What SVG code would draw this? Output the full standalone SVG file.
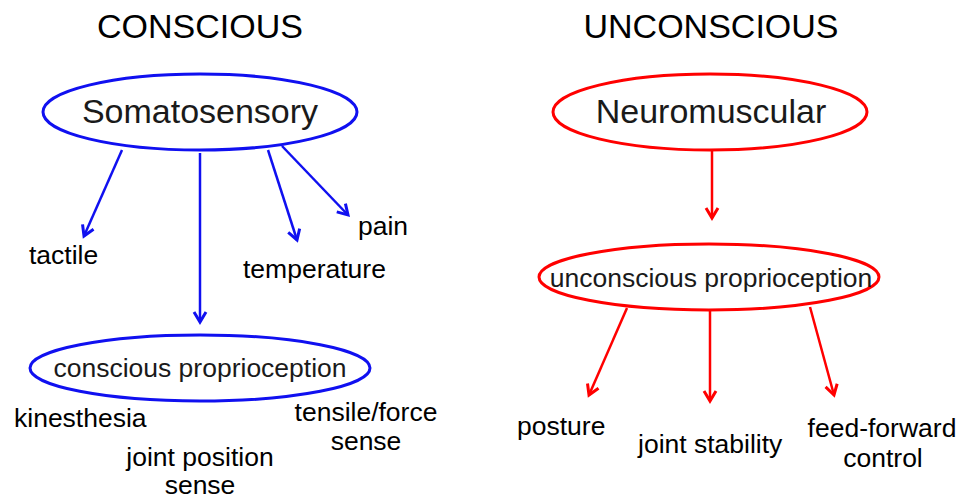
<svg xmlns="http://www.w3.org/2000/svg" width="964" height="500" viewBox="0 0 964 500">
<style>
text{font-family:"Liberation Sans",Arial,sans-serif;fill:#000}
.title{font-size:34px}
.big{font-size:34px;text-anchor:middle;fill:#1a1a1a}
.mid{font-size:26.5px;text-anchor:middle;fill:#1a1a1a}
.lbl{font-size:26.5px}
.c{text-anchor:middle}
.be{fill:none;stroke:#1010f0;stroke-width:3}
.re{fill:none;stroke:#ff0000;stroke-width:3}
.bl{stroke:#1010f0;stroke-width:2.5;fill:none;marker-end:url(#ab)}
.rl{stroke:#ff0000;stroke-width:2.5;fill:none;marker-end:url(#ar)}
</style>
<defs>
<marker id="ab" markerUnits="userSpaceOnUse" markerWidth="16" markerHeight="16" viewBox="0 0 16 16" refX="13" refY="8" orient="auto">
<path d="M3,2 L13,8 L3,14" fill="none" stroke="#1010f0" stroke-width="3" stroke-linejoin="miter"/>
</marker>
<marker id="ar" markerUnits="userSpaceOnUse" markerWidth="16" markerHeight="16" viewBox="0 0 16 16" refX="13" refY="8" orient="auto">
<path d="M3,2 L13,8 L3,14" fill="none" stroke="#ff0000" stroke-width="3" stroke-linejoin="miter"/>
</marker>
</defs>
<rect width="964" height="500" fill="#fff"/>
<g id="title-conscious"><text class="title c" x="200" y="38">CONSCIOUS</text></g>
<g id="title-unconscious"><text class="title c" x="711" y="38">UNCONSCIOUS</text></g>
<g id="somatosensory">
<ellipse class="be" cx="200" cy="112" rx="157" ry="38"/>
<text class="big" x="200" y="123">Somatosensory</text>
</g>
<g id="neuromuscular">
<ellipse class="re" cx="710" cy="112" rx="157" ry="38"/>
<text class="big" x="711" y="123">Neuromuscular</text>
</g>
<g id="conscious-proprioception">
<ellipse class="be" cx="200" cy="368" rx="170" ry="33"/>
<text class="mid" x="200" y="377">conscious proprioception</text>
</g>
<g id="unconscious-proprioception">
<ellipse class="re" cx="709" cy="277" rx="170" ry="33"/>
<text class="mid" x="711" y="287">unconscious proprioception</text>
</g>
<g id="tactile"><text class="lbl" x="29" y="264">tactile</text></g>
<g id="temperature"><text class="lbl" x="243" y="278">temperature</text></g>
<g id="pain"><text class="lbl" x="358" y="235">pain</text></g>
<g id="kinesthesia"><text class="lbl" x="14" y="427">kinesthesia</text></g>
<g id="tensile-force"><text class="lbl c" x="366" y="421">tensile/force</text><text class="lbl c" x="366" y="450">sense</text></g>
<g id="joint-position"><text class="lbl c" x="200" y="466">joint position</text><text class="lbl c" x="200" y="494">sense</text></g>
<g id="posture"><text class="lbl" x="517" y="435">posture</text></g>
<g id="joint-stability"><text class="lbl" x="638" y="453">joint stability</text></g>
<g id="feed-forward"><text class="lbl c" x="882" y="437">feed-forward</text><text class="lbl c" x="883" y="467">control</text></g>
<g id="connectors">
<line class="bl" x1="122" y1="150" x2="84" y2="236"/>
<line class="bl" x1="200" y1="153" x2="200" y2="322"/>
<line class="bl" x1="268" y1="150" x2="297" y2="240"/>
<line class="bl" x1="282" y1="146" x2="348" y2="215"/>
<line class="rl" x1="712" y1="151" x2="712" y2="218"/>
<line class="rl" x1="627" y1="308" x2="589" y2="395"/>
<line class="rl" x1="710" y1="311" x2="710" y2="401"/>
<line class="rl" x1="810" y1="307" x2="834" y2="395"/>
</g>
</svg>
